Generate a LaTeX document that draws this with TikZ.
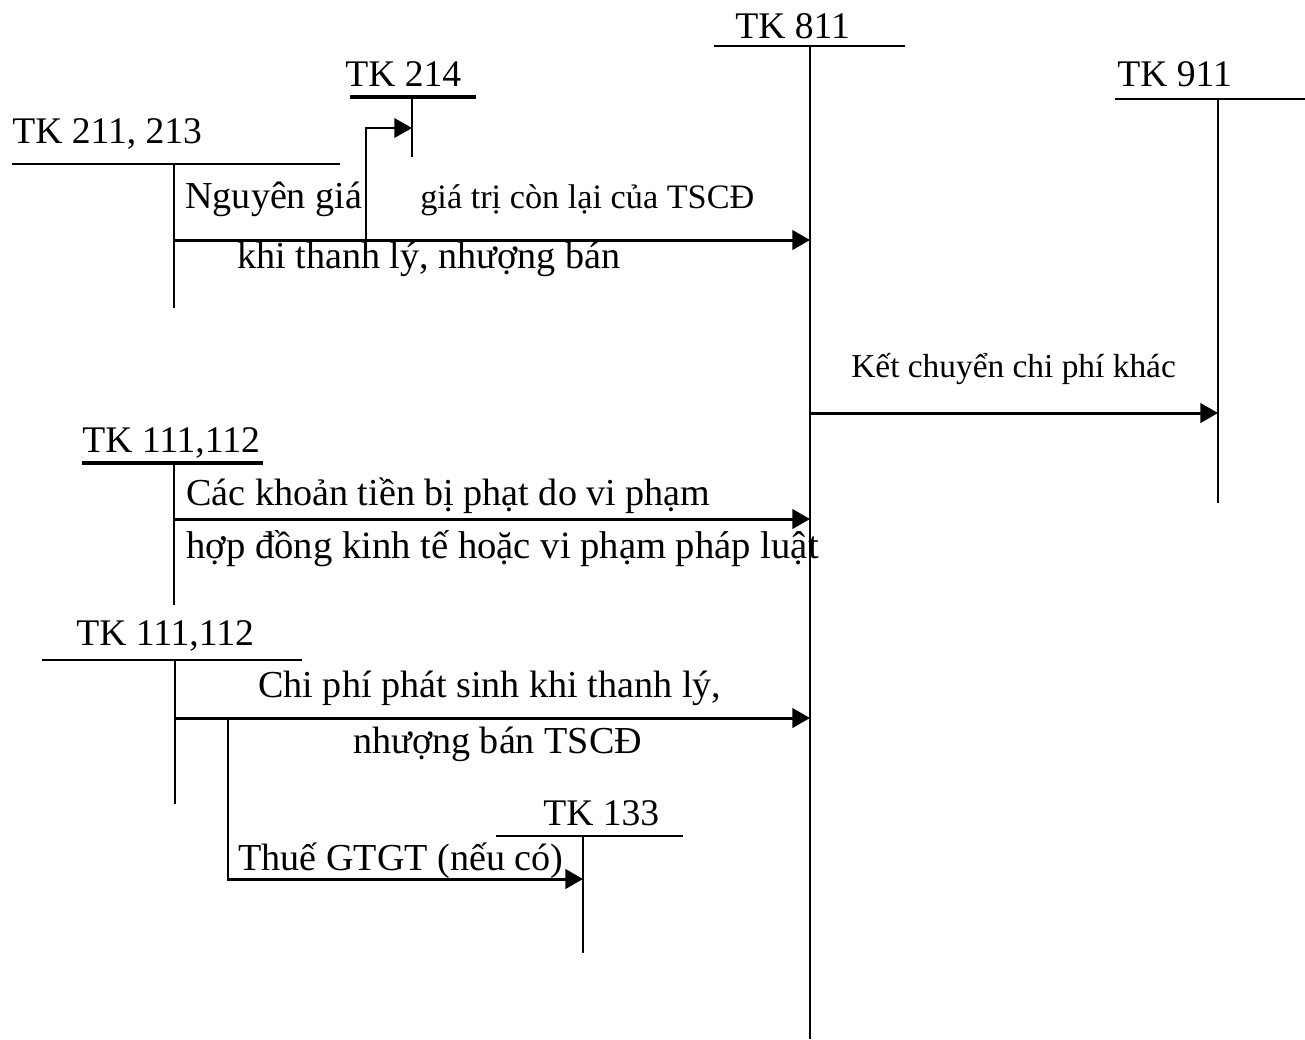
\documentclass[tikz,border=0pt]{standalone}
\usepackage{fontspec}
\setmainfont{Liberation Serif}
\usetikzlibrary{arrows.meta}

\begin{document}
\begin{tikzpicture}[
  x=0.02cm, y=-0.02cm,
  acct/.style={anchor=base west, inner sep=0pt, font=\fontsize{21.4}{25}\selectfont},
  txt/.style={anchor=base west, inner sep=0pt, font=\fontsize{21.7}{25}\selectfont},
  small/.style={anchor=base west, inner sep=0pt, font=\fontsize{19.5}{23}\selectfont},
  tline/.style={line width=1.1pt},
  uline/.style={line width=2.4pt},
  arr/.style={-{Triangle[length=10pt,width=11pt]}, line width=1.7pt}
]
\useasboundingbox (0,0) rectangle (1305,1039);

% T-accounts
\node[acct] (t811) at (735,38) {TK 811};
\coordinate (l811) at (714,46);
\coordinate (r811) at (905,46);
\coordinate (top811) at (810,46);
\coordinate (bot811) at (810,1039);
\draw[tline] (l811) -- (r811);
\draw[tline] (top811) -- (bot811);

\node[acct] (t911) at (1117,86) {TK 911};
\coordinate (l911) at (1115,99);
\coordinate (r911) at (1305,99);
\coordinate (top911) at (1218,99);
\coordinate (bot911) at (1218,503);
\draw[tline] (l911) -- (r911);
\draw[tline] (top911) -- (bot911);

\node[acct] (t214) at (345,86) {TK 214};
\coordinate (l214) at (350,97);
\coordinate (r214) at (476,97);
\coordinate (top214) at (412,97);
\coordinate (bot214) at (412,157);
\draw[uline] (l214) -- (r214);
\draw[tline] (top214) -- (bot214);

\node[acct] (t211) at (12,143) {TK 211, 213};
\coordinate (l211) at (12,164);
\coordinate (r211) at (340,164);
\coordinate (top211) at (174,164);
\coordinate (bot211) at (174,308);
\draw[tline] (l211) -- (r211);
\draw[tline] (top211) -- (bot211);

\node[acct] (t111a) at (82,452) {TK 111,112};
\coordinate (l111a) at (82,463);
\coordinate (r111a) at (263,463);
\coordinate (top111a) at (174,463);
\coordinate (bot111a) at (174,605);
\draw[uline] (l111a) -- (r111a);
\draw[tline] (top111a) -- (bot111a);

\node[acct] (t111b) at (76,645) {TK 111,112};
\coordinate (l111b) at (42,660);
\coordinate (r111b) at (302,660);
\coordinate (top111b) at (175,660);
\coordinate (bot111b) at (175,804);
\draw[tline] (l111b) -- (r111b);
\draw[tline] (top111b) -- (bot111b);

\node[acct] (t133) at (543,825) {TK 133};
\coordinate (l133) at (496,836);
\coordinate (r133) at (683,836);
\coordinate (top133) at (583,836);
\coordinate (bot133) at (583,953);
\draw[tline] (l133) -- (r133);
\draw[tline] (top133) -- (bot133);

% entries
\coordinate (out211) at (174,240);
\coordinate (in811a) at (810,240);
\coordinate (br214) at (366,240);
\coordinate (in214) at (412,128);
\draw[arr] (out211) -- (in811a);
\draw[arr, line width=1.3pt] (br214) |- (in214);
\node[txt] (nguyengia) at (185,208) {Nguyên giá};
\node[small] (gtcl) at (420,208) {giá trị còn lại của TSCĐ};
\node[txt] (khitl) at (237,268) {khi thanh lý, nhượng bán};

\coordinate (out811) at (810,413);
\coordinate (in911) at (1218,413);
\draw[arr] (out811) -- (in911);
\node[small, font=\fontsize{19}{23}\selectfont] (kc) at (851,377) {Kết chuyển chi phí khác};

\coordinate (out111a) at (174,519);
\coordinate (in811b) at (810,519);
\draw[arr] (out111a) -- (in811b);
\node[txt] (phat1) at (186,505) {Các khoản tiền bị phạt do vi phạm};
\node[txt, font=\fontsize{22}{26}\selectfont] (phat2) at (186,558) {hợp đồng kinh tế hoặc vi phạm pháp luật};

\coordinate (out111b) at (175,718);
\coordinate (in811c) at (810,718);
\draw[arr] (out111b) -- (in811c);
\node[txt] (cp1) at (258,697) {Chi phí phát sinh khi thanh lý,};
\node[txt] (cp2) at (353,753) {nhượng bán TSCĐ};

\coordinate (br133) at (228,718);
\coordinate (in133) at (583,879);
\draw[arr] (br133) |- (in133);
\node[txt] (vat) at (238,870) {Thuế GTGT (nếu có)};
\end{tikzpicture}
\end{document}
